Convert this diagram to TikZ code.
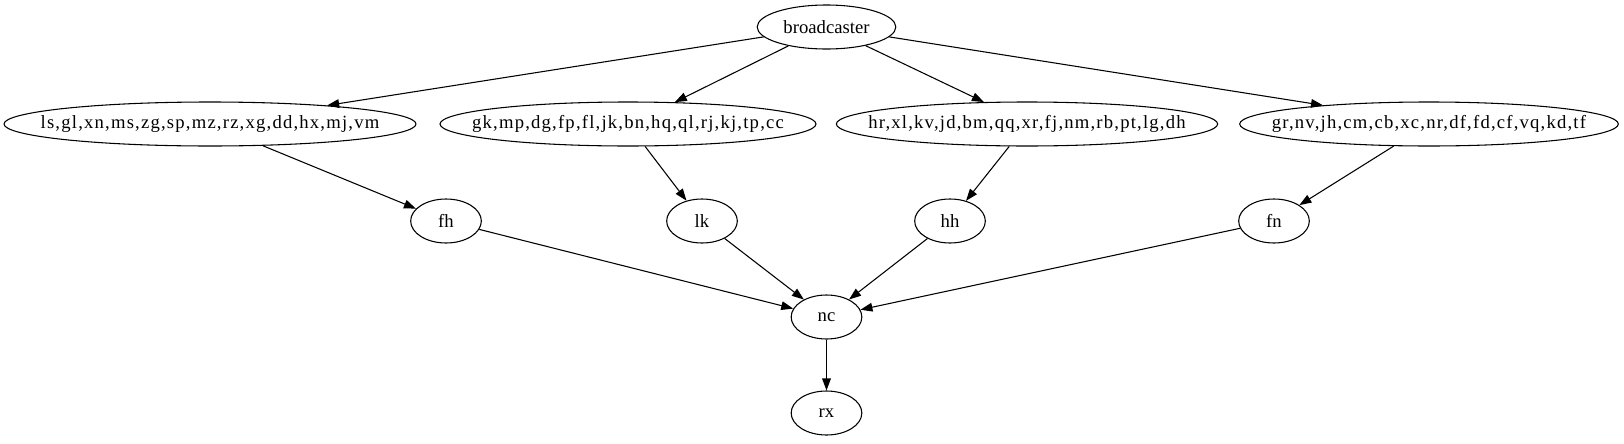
\documentclass[tikz,border=0pt]{standalone}
\usepackage{fontspec}
\setmainfont{Liberation Serif}
\newfontfamily\listfont{Liberation Serif}[LetterSpace=6.4]
\usetikzlibrary{arrows.meta, shapes.geometric}

\tikzset{
    ell/.style={draw, ellipse, inner sep=0pt, minimum height=33pt, line width=0.8pt, font=\fontsize{14}{16}\selectfont},
    wide/.style={ell, inner xsep=-30pt, minimum width=309pt, font=\listfont\fontsize{14}{16}\selectfont},
    small/.style={ell, minimum width=53pt},
    edge/.style={-{Triangle[length=9pt,width=6.5pt]}, line width=0.8pt}
}

\begin{document}
\begin{tikzpicture}[x=0.75pt, y=-0.75pt]

    \useasboundingbox (0,0) rectangle (1624,443);

    \node[ell, minimum width=104pt] (broadcaster) at (826.5,27) {broadcaster};

    \node[wide] (g1) at (210,124) {ls,gl,xn,ms,zg,sp,mz,rz,xg,dd,hx,mj,vm};
    \node[wide, minimum width=282pt] (g2) at (628,124) {gk,mp,dg,fp,fl,jk,bn,hq,ql,rj,kj,tp,cc};
    \node[wide, minimum width=286pt] (g3) at (1027,124) {hr,xl,kv,jd,bm,qq,xr,fj,nm,rb,pt,lg,dh};
    \node[wide, minimum width=284pt] (g4) at (1429,124) {gr,nv,jh,cm,cb,xc,nr,df,fd,cf,vq,kd,tf};

    \node[small] (fh) at (446,221) {fh};
    \node[small] (lk) at (702,221) {lk};
    \node[small] (hh) at (950,221) {hh};
    \node[small] (fn) at (1274,221) {fn};

    \node[small] (nc) at (826.5,317) {nc};
    \node[small] (rx) at (826.5,413) {rx};

    \draw[edge] (broadcaster) -- (g1.9);
    \draw[edge] (broadcaster) -- (g2.25);
    \draw[edge] (broadcaster) -- (g3.153);
    \draw[edge] (broadcaster) -- (g4.170);

    \draw[edge] (g1) -- (fh);
    \draw[edge] (g2) -- (lk);
    \draw[edge] (g3) -- (hh);
    \draw[edge] (g4) -- (fn);

    \foreach \n in {fh,lk,hh,fn}
        \draw[edge] (\n) -- (nc);

    \draw[edge] (nc) -- (rx);

\end{tikzpicture}
\end{document}
